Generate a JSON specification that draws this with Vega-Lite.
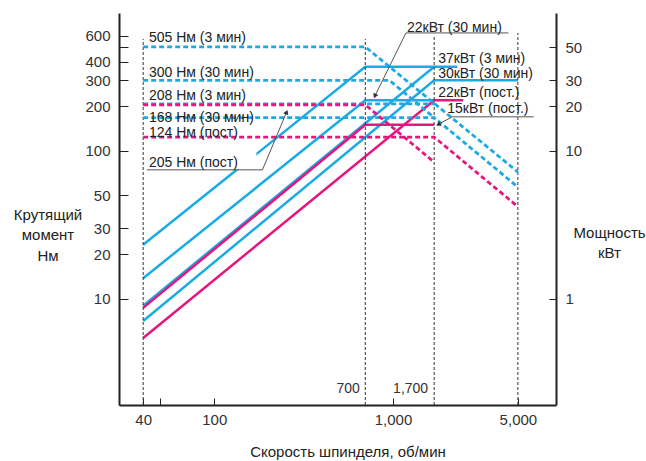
{
  "$schema": "https://vega.github.io/schema/vega-lite/v6.json",
  "width": 437,
  "height": 392,
  "autosize": {"type": "none"},
  "padding": {"left": 119, "top": 13, "right": 90, "bottom": 56},
  "background": "white",
  "config": {
    "view": {"stroke": null},
    "font": "Liberation Sans",
    "axis": {
      "grid": false,
      "domainColor": "#222222",
      "domainWidth": 2,
      "tickColor": "#222222",
      "tickWidth": 1,
      "labelColor": "#333333",
      "labelFont": "Liberation Sans",
      "labelFontSize": 15,
      "titleFont": "Liberation Sans",
      "titleFontSize": 15,
      "titleFontWeight": "normal",
      "titleColor": "#222222"
    }
  },
  "datasets": {
    "power": [
      {"series": "37 кВт (3 мин), 700", "duty": "кратковр.", "rpm": 40, "kw": 2.32},
      {"series": "37 кВт (3 мин), 700", "duty": "кратковр.", "rpm": 700, "kw": 37},
      {"series": "37 кВт (3 мин), 700", "duty": "кратковр.", "rpm": 2290, "kw": 37},
      {"series": "22 кВт (30 мин)", "duty": "кратковр.", "rpm": 40, "kw": 1.38},
      {"series": "22 кВт (30 мин)", "duty": "кратковр.", "rpm": 700, "kw": 22},
      {"series": "22 кВт (30 мин)", "duty": "кратковр.", "rpm": 1700, "kw": 22},
      {"series": "37 кВт (3 мин), 1700", "duty": "кратковр.", "rpm": 40, "kw": 0.9},
      {"series": "37 кВт (3 мин), 1700", "duty": "кратковр.", "rpm": 1700, "kw": 37},
      {"series": "30 кВт (30 мин)", "duty": "кратковр.", "rpm": 40, "kw": 0.71},
      {"series": "30 кВт (30 мин)", "duty": "кратковр.", "rpm": 1700, "kw": 30},
      {"series": "30 кВт (30 мин)", "duty": "кратковр.", "rpm": 5000, "kw": 30},
      {"series": "15 кВт (пост.)", "duty": "пост.", "rpm": 40, "kw": 0.87},
      {"series": "15 кВт (пост.)", "duty": "пост.", "rpm": 700, "kw": 15},
      {"series": "15 кВт (пост.)", "duty": "пост.", "rpm": 1700, "kw": 15},
      {"series": "22 кВт (пост.)", "duty": "пост.", "rpm": 40, "kw": 0.545},
      {"series": "22 кВт (пост.)", "duty": "пост.", "rpm": 1700, "kw": 22},
      {"series": "22 кВт (пост.)", "duty": "пост.", "rpm": 2470, "kw": 22}
    ],
    "torque": [
      {"series": "505 Нм (3 мин)", "duty": "кратковр.", "rpm": 40, "nm": 505},
      {"series": "505 Нм (3 мин)", "duty": "кратковр.", "rpm": 700, "nm": 505},
      {"series": "505 Нм (3 мин)", "duty": "кратковр.", "rpm": 5000, "nm": 72},
      {"series": "300 Нм (30 мин)", "duty": "кратковр.", "rpm": 40, "nm": 300},
      {"series": "300 Нм (30 мин)", "duty": "кратковр.", "rpm": 955, "nm": 300},
      {"series": "300 Нм (30 мин)", "duty": "кратковр.", "rpm": 1700, "nm": 168},
      {"series": "208 Нм (3 мин)", "duty": "кратковр.", "rpm": 40, "nm": 208},
      {"series": "208 Нм (3 мин)", "duty": "кратковр.", "rpm": 1700, "nm": 208},
      {"series": "168 Нм (30 мин)", "duty": "кратковр.", "rpm": 40, "nm": 168},
      {"series": "168 Нм (30 мин)", "duty": "кратковр.", "rpm": 1700, "nm": 168},
      {"series": "168 Нм (30 мин)", "duty": "кратковр.", "rpm": 5000, "nm": 57},
      {"series": "205 Нм (пост)", "duty": "пост.", "rpm": 40, "nm": 205},
      {"series": "205 Нм (пост)", "duty": "пост.", "rpm": 700, "nm": 205},
      {"series": "205 Нм (пост)", "duty": "пост.", "rpm": 1700, "nm": 84},
      {"series": "124 Нм (пост)", "duty": "пост.", "rpm": 40, "nm": 124},
      {"series": "124 Нм (пост)", "duty": "пост.", "rpm": 1700, "nm": 124},
      {"series": "124 Нм (пост)", "duty": "пост.", "rpm": 5000, "nm": 42}
    ],
    "speeds": [
      {"rpm": 40, "lo": 1.92, "hi": 570},
      {"rpm": 700, "lo": 1.92, "hi": 570},
      {"rpm": 1700, "lo": 1.92, "hi": 608},
      {"rpm": 5000, "lo": 1.92, "hi": 627}
    ],
    "speedLabels": [
      {"text": "700", "rpm": 653, "nm": 2.32},
      {"text": "1,700", "rpm": 1573, "nm": 2.32}
    ],
    "labels": [
      {"text": "505 Нм (3 мин)", "rpm": 43.1, "nm": 545},
      {"text": "300 Нм (30 мин)", "rpm": 43.1, "nm": 316},
      {"text": "208 Нм (3 мин)", "rpm": 43.1, "nm": 221},
      {"text": "168 Нм (30 мин)", "rpm": 43.1, "nm": 157},
      {"text": "124 Нм (пост)", "rpm": 43.1, "nm": 124},
      {"text": "205 Нм (пост)", "rpm": 43.1, "nm": 78},
      {"text": "22кВт (30 мин)", "rpm": 1198, "nm": 637},
      {"text": "37кВт (3 мин)", "rpm": 1790, "nm": 393},
      {"text": "30кВт (30 мин)", "rpm": 1790, "nm": 311},
      {"text": "22кВт (пост.)", "rpm": 1790, "nm": 232},
      {"text": "15кВт (пост.)", "rpm": 2011, "nm": 181}
    ],
    "mask": [
      {"rpm": 42, "rpm2": 172, "nm": 75, "nm2": 98}
    ],
    "leaders": [
      {"leader": "205", "step": 1, "rpm": 42, "nm": 74.5},
      {"leader": "205", "step": 2, "rpm": 186, "nm": 74.5},
      {"leader": "205", "step": 3, "rpm": 254, "nm": 183},
      {"leader": "22-30", "step": 1, "rpm": 4426, "nm": 627},
      {"leader": "22-30", "step": 2, "rpm": 1182, "nm": 627},
      {"leader": "22-30", "step": 3, "rpm": 792, "nm": 235},
      {"leader": "15", "step": 1, "rpm": 6126, "nm": 170},
      {"leader": "15", "step": 2, "rpm": 2145, "nm": 170},
      {"leader": "15", "step": 3, "rpm": 1791, "nm": 151}
    ]
  },
  "resolve": {"scale": {"y": "independent"}},
  "layer": [
    {
      "data": {"name": "power"},
      "mark": {"type": "line", "strokeWidth": 2.5},
      "encoding": {
        "x": {
          "field": "rpm", "type": "quantitative",
          "scale": {"type": "log", "domain": [29.3, 8170], "nice": false},
          "axis": {
            "orient": "bottom",
            "values": [40, 50, 100, 1000, 5000],
            "labelExpr": "datum.value == 50 ? '' : format(datum.value, ',')",
            "tickSize": -7,
            "labelPadding": 14,
            "title": "Скорость шпинделя, об/мин",
            "titleX": 228.5,
            "titleY": 51,
            "titleAlign": "center",
            "titleBaseline": "alphabetic"
          }
        },
        "y": {
          "field": "kw", "type": "quantitative",
          "scale": {"type": "log", "domain": [0.192, 85.5], "nice": false, "zero": false},
          "axis": {
            "orient": "right",
            "values": [1, 10, 20, 30, 50],
            "tickSize": -7,
            "labelPadding": 16,
            "title": ["Мощность", "кВт"],
            "titleAngle": 0,
            "titleAlign": "center",
            "titleBaseline": "alphabetic",
            "titleLineHeight": 20.5,
            "titleX": 53,
            "titleY": 224
          }
        },
        "detail": {"field": "series"},
        "color": {
          "field": "duty", "type": "nominal",
          "scale": {"domain": ["кратковр.", "пост."], "range": ["#1AAAE6", "#E5177E"]},
          "legend": null
        }
      }
    },
    {
      "layer": [
        {
          "data": {"name": "speeds"},
          "mark": {"type": "rule", "color": "#333333", "strokeWidth": 1, "strokeDash": [3, 2]},
          "encoding": {
            "x": {"field": "rpm", "type": "quantitative", "scale": {"type": "log", "domain": [29.3, 8170], "nice": false}},
            "y": {
              "field": "lo", "type": "quantitative",
              "scale": {"type": "log", "domain": [1.92, 855], "nice": false, "zero": false},
              "axis": {
                "orient": "left",
                "values": [10, 20, 30, 50, 100, 200, 300, 400, 500, 600],
                "tickSize": -9,
                "labelPadding": 18,
                "title": ["Крутящий", "момент", "Нм"],
                "titleAngle": 0,
                "titleAlign": "center",
                "titleBaseline": "alphabetic",
                "titleLineHeight": 20.5,
                "titleX": -71.5,
                "titleY": 206
              }
            },
            "y2": {"field": "hi"}
          }
        },
        {
          "data": {"name": "torque"},
          "mark": {"type": "line", "strokeWidth": 2.8, "strokeDash": [5, 3]},
          "encoding": {
            "x": {"field": "rpm", "type": "quantitative", "scale": {"type": "log", "domain": [29.3, 8170], "nice": false}},
            "y": {"field": "nm", "type": "quantitative", "scale": {"type": "log", "domain": [1.92, 855], "nice": false, "zero": false}},
            "detail": {"field": "series"},
            "color": {
              "field": "duty", "type": "nominal",
              "scale": {"domain": ["кратковр.", "пост."], "range": ["#1AAAE6", "#E5177E"]},
              "legend": null
            }
          }
        },
        {
          "data": {"name": "mask"},
          "mark": {"type": "rect", "fill": "white"},
          "encoding": {
            "x": {"field": "rpm", "type": "quantitative", "scale": {"type": "log", "domain": [29.3, 8170], "nice": false}},
            "x2": {"field": "rpm2"},
            "y": {"field": "nm", "type": "quantitative", "scale": {"type": "log", "domain": [1.92, 855], "nice": false, "zero": false}},
            "y2": {"field": "nm2"}
          }
        },
        {
          "data": {"name": "leaders"},
          "mark": {"type": "line", "color": "#555555", "strokeWidth": 1},
          "encoding": {
            "x": {"field": "rpm", "type": "quantitative", "scale": {"type": "log", "domain": [29.3, 8170], "nice": false}},
            "y": {"field": "nm", "type": "quantitative", "scale": {"type": "log", "domain": [1.92, 855], "nice": false, "zero": false}},
            "detail": {"field": "leader"},
            "order": {"field": "step"}
          }
        },
        {
          "data": {"values": [{"rpm": 254, "nm": 183}]},
          "mark": {"type": "point", "shape": "triangle-up", "angle": 22, "size": 30, "filled": true, "color": "#333333", "opacity": 1},
          "encoding": {
            "x": {"field": "rpm", "type": "quantitative", "scale": {"type": "log", "domain": [29.3, 8170], "nice": false}},
            "y": {"field": "nm", "type": "quantitative", "scale": {"type": "log", "domain": [1.92, 855], "nice": false, "zero": false}}
          }
        },
        {
          "data": {"values": [{"rpm": 792, "nm": 235}]},
          "mark": {"type": "point", "shape": "triangle-down", "angle": 25, "size": 30, "filled": true, "color": "#333333", "opacity": 1},
          "encoding": {
            "x": {"field": "rpm", "type": "quantitative", "scale": {"type": "log", "domain": [29.3, 8170], "nice": false}},
            "y": {"field": "nm", "type": "quantitative", "scale": {"type": "log", "domain": [1.92, 855], "nice": false, "zero": false}}
          }
        },
        {
          "data": {"values": [{"rpm": 1791, "nm": 151}]},
          "mark": {"type": "point", "shape": "triangle-left", "angle": -25, "size": 30, "filled": true, "color": "#333333", "opacity": 1},
          "encoding": {
            "x": {"field": "rpm", "type": "quantitative", "scale": {"type": "log", "domain": [29.3, 8170], "nice": false}},
            "y": {"field": "nm", "type": "quantitative", "scale": {"type": "log", "domain": [1.92, 855], "nice": false, "zero": false}}
          }
        },
        {
          "data": {"name": "labels"},
          "mark": {"type": "text", "align": "left", "baseline": "alphabetic", "fontSize": 14, "color": "#222222", "font": "Liberation Sans"},
          "encoding": {
            "x": {"field": "rpm", "type": "quantitative", "scale": {"type": "log", "domain": [29.3, 8170], "nice": false}},
            "y": {"field": "nm", "type": "quantitative", "scale": {"type": "log", "domain": [1.92, 855], "nice": false, "zero": false}},
            "text": {"field": "text"}
          }
        },
        {
          "data": {"name": "speedLabels"},
          "mark": {"type": "text", "align": "right", "baseline": "alphabetic", "fontSize": 14, "color": "#333333", "font": "Liberation Sans"},
          "encoding": {
            "x": {"field": "rpm", "type": "quantitative", "scale": {"type": "log", "domain": [29.3, 8170], "nice": false}},
            "y": {"field": "nm", "type": "quantitative", "scale": {"type": "log", "domain": [1.92, 855], "nice": false, "zero": false}},
            "text": {"field": "text"}
          }
        }
      ]
    }
  ]
}
